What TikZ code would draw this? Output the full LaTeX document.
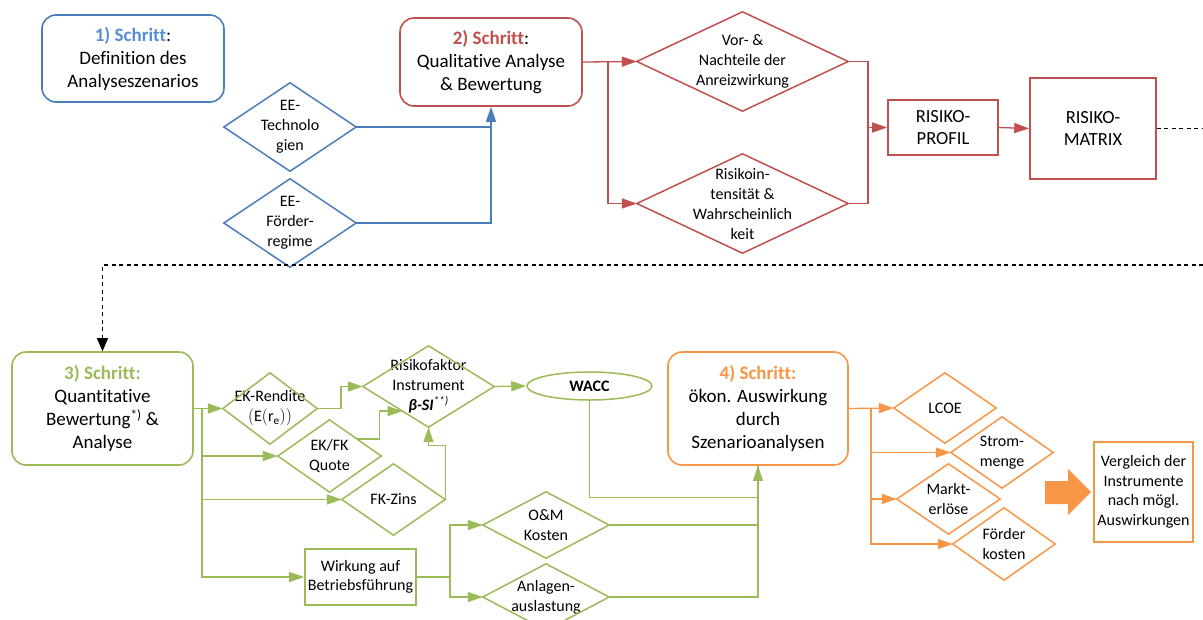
\documentclass[tikz,border=0pt]{standalone}
\usepackage{fontspec}
\setmainfont{Carlito}[RawFeature={-liga}]
\usetikzlibrary{arrows.meta,calc,shapes.geometric}

\definecolor{sblue}{HTML}{4A7EBB}
\definecolor{sbluetxt}{HTML}{558ED5}
\definecolor{sred}{HTML}{C0504D}
\definecolor{sgreen}{HTML}{9BBB59}
\definecolor{sorange}{HTML}{F79646}

% diamond outline around a (rectangular, undrawn) node
\newcommand\diaoutline[2]{\draw[#2, line width=1.5pt, line join=miter] (#1.north) -- (#1.east) -- (#1.south) -- (#1.west) -- cycle;}

\tikzset{
  stepbox/.style={draw=#1, line width=1.6pt, rounded corners=14pt, align=center, inner sep=0pt,
    font=\fontsize{19}{23}\selectfont},
  plainbox/.style={draw=#1, line width=1.6pt, align=center, inner sep=0pt,
    font=\fontsize{16}{19.5}\selectfont},
  riskbox/.style={draw=#1, line width=1.6pt, align=center, inner sep=0pt,
    font=\fontsize{18.5}{22.5}\selectfont},
  diatext/.style={align=center, inner sep=0pt, font=\fontsize{16}{20}\selectfont},
  link/.style={draw=#1, line width=1.3pt},
  arr/.style={-{Triangle[length=15pt,width=10pt]}},
  darr/.style={-{Triangle[length=13pt,width=11pt]}},
}

\begin{document}
\begin{tikzpicture}[x=1pt, y=-1pt]
\useasboundingbox (0,0) rectangle (1203,619);
\clip (0,0) rectangle (1203,619);

% ---------- step 1 ----------
\node[stepbox=sblue, minimum width=182pt, minimum height=87pt] (s1) at (133,58.5)
  {{\color{sbluetxt}\bfseries 1) Schritt}:\\Definition des\\Analyseszenarios};
\node[diatext, minimum width=132pt, minimum height=88pt] (tech) at (290,127) {EE-\\Technolo\\gien};
\diaoutline{tech}{sblue}
\node[diatext, minimum width=132pt, minimum height=88pt] (foerd) at (290,223) {EE-\\Förder-\\regime};
\diaoutline{foerd}{sblue}

% ---------- step 2 ----------
\node[stepbox=sred, minimum width=182pt, minimum height=88pt] (s2) at (491,62)
  {{\color{sred}\bfseries 2) Schritt}:\\Qualitative Analyse\\\& Bewertung};
\node[diatext, minimum width=211pt, minimum height=99pt] (vor) at (742.5,61.5) {Vor- \&\\Nachteile der\\Anreizwirkung};
\diaoutline{vor}{sred}
\node[diatext, minimum width=211pt, minimum height=99pt] (risk) at (742.5,203.5) {Risikoin-\\tensität \&\\Wahrscheinlich\\keit};
\diaoutline{risk}{sred}
\node[riskbox=sred, minimum width=110pt, minimum height=55pt] (rprof) at (943,127.5) {RISIKO-\\PROFIL};
\node[riskbox=sred, minimum width=126pt, minimum height=101pt] (rmat) at (1093,128.5) {RISIKO-\\MATRIX};

% ---------- step 3 ----------
\node[stepbox=sgreen, minimum width=181pt, minimum height=113pt] (s3) at (102.5,408.5)
  {{\color{sgreen}\bfseries 3) Schritt:}\\Quantitative\\Bewertung\textsuperscript{*)} \&\\Analyse};
\node[diatext, minimum width=94pt, minimum height=71pt] (ekr) at (270,408.5) {EK-Rendite\\$(\mathrm{E}(\mathrm{r}_{\mathrm{e}}))$};
\diaoutline{ekr}{sgreen}
\node[diatext, minimum width=103pt, minimum height=72pt] (ekfk) at (329.5,456) {EK/FK\\Quote};
\diaoutline{ekfk}{sgreen}
\node[diatext, minimum width=103pt, minimum height=71pt] (fkz) at (393.5,499.5) {FK-Zins};
\diaoutline{fkz}{sgreen}
\node[diatext, minimum width=131pt, minimum height=81pt] (rf) at (428.5,386.5)
  {Risikofaktor\\Instrument\\{\bfseries\itshape β-SI}\textsuperscript{\itshape **)}};
\diaoutline{rf}{sgreen}
\node[draw=sgreen, line width=1.5pt, ellipse, inner sep=0pt, minimum width=125pt, minimum height=28pt,
  font=\fontsize{16}{20}\selectfont\bfseries] (wacc) at (589.5,386) {WACC};
\node[plainbox=sgreen, minimum width=111pt, minimum height=56pt] (wirk) at (360.5,577) {Wirkung auf\\Betriebsführung};
\node[diatext, minimum width=126pt, minimum height=66pt] (om) at (546,525) {O\&M\\Kosten};
\diaoutline{om}{sgreen}
\node[diatext, minimum width=126pt, minimum height=66pt] (anl) at (546,597) {Anlagen-\\auslastung};
\diaoutline{anl}{sgreen}

% ---------- step 4 ----------
\node[stepbox=sorange, minimum width=180pt, minimum height=113pt] (s4) at (758,408.5)
  {{\color{sorange}\bfseries 4) Schritt:}\\ökon. Auswirkung\\durch\\Szenarioanalysen};
\node[diatext, minimum width=102pt, minimum height=70pt] (lcoe) at (945,408) {LCOE};
\diaoutline{lcoe}{sorange}
\node[diatext, minimum width=102pt, minimum height=71pt] (strom) at (1002,452.5) {Strom-\\menge};
\diaoutline{strom}{sorange}
\node[diatext, minimum width=103pt, minimum height=70pt] (markt) at (948.5,499) {Markt-\\erlöse};
\diaoutline{markt}{sorange}
\node[diatext, minimum width=102pt, minimum height=72pt] (foerder) at (1004,544) {Förder\\kosten};
\diaoutline{foerder}{sorange}
\node[plainbox=sorange, minimum width=99pt, minimum height=100pt] (vgl) at (1143.5,492)
  {Vergleich der\\Instrumente\\nach mögl.\\Auswirkungen};
\fill[sorange] (1045,481) -- (1068,481) -- (1068,469) -- (1091,492) -- (1068,515) -- (1068,504) -- (1045,504) -- cycle;

% ---------- connectors: step 1 ----------
\draw[link=sblue] (tech.east) -- (tech.east -| s2.south);
\draw[link=sblue, arr] (foerd.east) -| (s2.south);

% ---------- connectors: step 2 ----------
\coordinate (rsplit) at (608,62);
\draw[link=sred, arr] (s2.east) -- (vor.west);
\draw[link=sred, arr] (rsplit) |- (risk.west);
\coordinate (rjoin) at (868,127.5);
\draw[link=sred] (vor.east) -| (rjoin) |- (risk.east);
\draw[link=sred, arr] (rjoin) -- (rprof.west);
\draw[link=sred, arr] (rprof.east) -- (rmat.west);

% ---------- transition to step 3 ----------
\coordinate (edgeA) at (1203,128.5);
\coordinate (edgeB) at (1203,265);
\draw[line width=1.1pt, dash pattern=on 4pt off 3.5pt] (rmat.east) -- (edgeA);
\draw[line width=1.1pt, dash pattern=on 4pt off 3.5pt, darr] (edgeB) -| (s3.north);

% ---------- connectors: step 3 ----------
\coordinate (gtrunk) at (202,408.5);
\draw[link=sgreen, arr] (s3.east) -- (ekr.west);
\draw[link=sgreen, arr] (gtrunk) |- (ekfk.west);
\draw[link=sgreen, arr] (gtrunk) |- (fkz.west);
\draw[link=sgreen, arr] (gtrunk) |- (wirk.west);
\draw[link=sgreen, arr] (ekr.east) -- (341,408.5) |- (rf.west);
\coordinate (ekfkout) at ($(ekfk.north)!0.53!(ekfk.east)$);
\coordinate (rfin) at ($(rf.west)!0.605!(rf.south)$);
\draw[link=sgreen, arr] (ekfkout) -| ($(rfin)+(-23,0)$) -- (rfin);
\draw[link=sgreen, arr] (fkz.east) |- ($(rf.south)+(0,18)$) -- (rf.south);
\draw[link=sgreen, arr] (rf.east) -- (wacc.west);
\draw[link=sgreen] (om.east) -- (om.east -| s4.south);
\draw[link=sgreen] (anl.east) -| (s4.south);
\draw[link=sgreen, arr] (wacc.south) |- ($(s4.south)+(0,31.5)$) -- (s4.south);
\coordinate (wsplit) at (450,577);
\draw[link=sgreen] (wirk.east) -- (wsplit);
\draw[link=sgreen, arr] (wsplit) |- (om.west);
\draw[link=sgreen, arr] (wsplit) |- (anl.west);

% ---------- connectors: step 4 ----------
\coordinate (otrunk) at (871,408.5);
\draw[link=sorange, arr] (s4.east) -- (lcoe.west);
\draw[link=sorange, arr] (otrunk) |- (strom.west);
\draw[link=sorange, arr] (otrunk) |- (markt.west);
\draw[link=sorange, arr] (otrunk) |- (foerder.west);
\end{tikzpicture}
\end{document}
